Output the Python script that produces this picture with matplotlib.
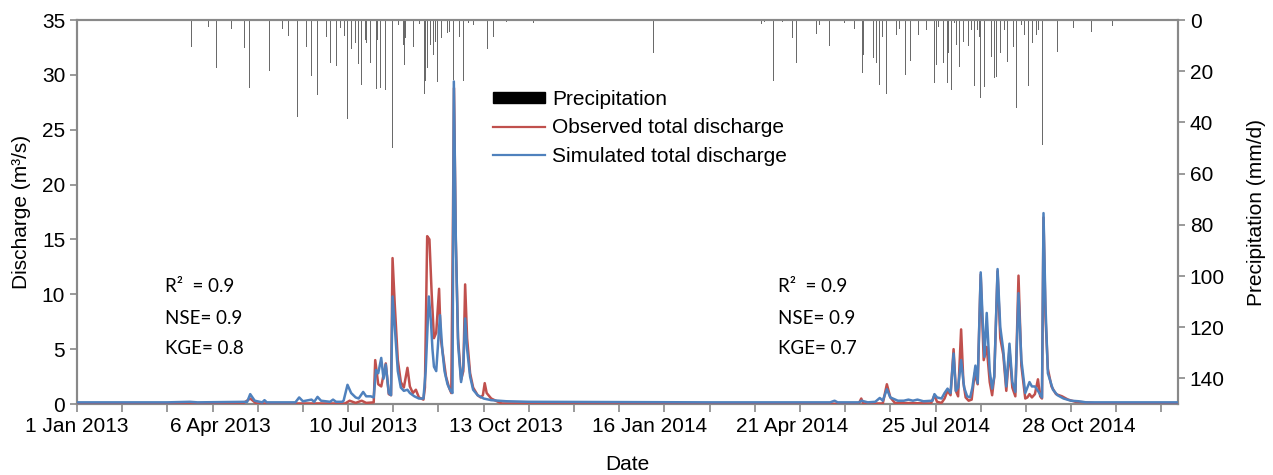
import numpy as np
import matplotlib
matplotlib.use("Agg")
from matplotlib import pyplot as plt
from matplotlib.patches import Patch
from matplotlib.lines import Line2D

plt.rcParams['font.family'] = ['Liberation Sans', 'DejaVu Sans']

# day index counted from 1 Jan 2013
tick_days = [0, 95, 190, 285, 380, 475, 570, 665]
tick_labels = ['1 Jan 2013', '6 Apr 2013', '10 Jul 2013', '13 Oct 2013',
               '16 Jan 2014', '21 Apr 2014', '25 Jul 2014', '28 Oct 2014']

# observed discharge (m3/s)
obs_day = [0, 110, 115, 119, 178, 181, 185, 189, 192, 197, 198, 200, 202, 205,
           207, 208.5, 209.5, 211, 213, 215, 217, 219.4, 221, 223, 225, 227, 230,
           231, 232.5, 234, 235.5, 237, 238.5, 240.4, 241.5, 243, 245, 247, 248.5,
           249.5, 250.3, 251.5, 253, 255, 256.5, 257.7, 259, 261, 263, 266, 268,
           269.5, 270.7, 272, 275, 278, 282, 519, 520.7, 522, 535, 537.7, 540, 543,
           567, 569.3, 571, 574, 576, 578, 580, 582, 583.5, 585, 587, 588.5, 590,
           592, 594, 596, 598, 600, 602, 604, 606, 607.6, 609, 611.2, 613, 615, 617,
           619.1, 621, 623, 625.1, 627, 629.6, 631, 632.4, 634, 636, 638, 639.5,
           640.7, 641.7, 643, 644.6, 647, 650, 654, 658, 663, 670, 677, 731]
obs_q = [0.03, 0.03, 0.5, 0.05, 0.05, 0.3, 0.1, 0.3, 0.1, 0.15, 4.0, 1.8, 1.6, 3.7,
         0.9, 0.8, 13.3, 9.0, 4.0, 2.0, 1.5, 3.3, 1.6, 1.0, 1.3, 0.6, 0.4,
         1.5, 15.3, 15.0, 10.0, 6.0, 6.5, 10.5, 6.0, 4.5, 2.5, 1.5, 1.0,
         15.0, 28.8, 15.0, 6.0, 2.2, 3.0, 10.9, 6.0, 2.8, 1.5, 0.8, 0.6,
         0.8, 1.9, 1.0, 0.5, 0.3, 0.05, 0.02, 0.5, 0.05, 0.05, 1.8, 0.6, 0.1,
         0.05, 0.8, 0.2, 0.1, 0.5, 1.2, 0.8, 5.0, 1.2, 0.7, 6.8, 2.0, 0.6,
         0.3, 0.4, 2.8, 1.8, 11.8, 4.0, 5.2, 2.0, 0.8, 2.5, 12.1, 6.0, 4.5, 1.2,
         5.0, 1.5, 0.7, 11.7, 3.5, 0.5, 0.6, 0.9, 0.6, 0.9, 2.25, 0.7,
         0.5, 17.0, 8.0, 3.2, 1.6, 0.9, 0.7, 0.4, 0.2, 0.15, 0.05, 0.02]

# simulated discharge (m3/s)
sim_day = [0, 60, 75, 80, 113, 115, 118, 123, 124.5, 126, 145, 147.5, 150, 155.7,
           157.5, 159.7, 162, 168, 170, 172, 176, 177, 179.6, 182, 185, 187, 190,
           192, 195, 197, 198.5, 200, 202, 203.5, 205, 207, 208.5, 209.5, 211, 213,
           215, 217, 219.4, 221, 224, 227, 230, 231.5, 233.6, 235, 236, 237, 238.5,
           241, 242.5, 244, 246, 248, 249.3, 250.2, 251.5, 253, 255, 256.5, 257.7,
           259, 261, 263, 266, 270, 275, 285, 300, 420, 500, 503, 505, 519, 521,
           525, 530, 533, 535, 537.7, 540, 545, 549, 552, 555, 558, 562, 568,
           569.3, 571, 574, 576, 578, 580, 582, 583.5, 585, 587, 589, 591, 593,
           594.5, 596.5, 598, 600, 601.5, 602.5, 604, 606, 607.6, 609, 611.2, 613,
           615, 617, 619.1, 621, 623, 625.1, 627, 629.6, 631, 632.4, 634, 636, 638,
           640.7, 641.7, 643, 644.6, 648, 651, 655, 660, 665, 670, 731]
sim_q = [0.15, 0.15, 0.2, 0.15, 0.2, 0.9, 0.3, 0.15, 0.35, 0.15, 0.15, 0.6, 0.25, 0.4,
         0.2, 0.65, 0.3, 0.2, 0.4, 0.2, 0.2, 0.3, 1.75, 1.0, 0.6, 0.5, 1.1,
         0.7, 0.7, 0.6, 3.1, 2.8, 4.2, 2.3, 3.6, 1.0, 0.8, 9.8, 7.0, 3.0,
         1.5, 1.2, 1.3, 1.0, 0.7, 0.5, 0.5, 3.0, 9.8, 7.5, 5.0, 3.4, 3.0,
         8.1, 5.0, 3.0, 1.8, 1.2, 1.0, 29.4, 15.0, 5.5, 2.0, 3.5, 7.8,
         5.0, 2.5, 1.3, 0.8, 0.5, 0.35, 0.25, 0.2, 0.15, 0.15, 0.3, 0.15, 0.15, 0.3,
         0.15, 0.2, 0.55, 0.3, 1.35, 0.6, 0.3, 0.3, 0.4, 0.3, 0.4, 0.25, 0.3,
         0.9, 0.6, 0.5, 1.0, 1.4, 1.0, 4.6, 1.2, 1.5, 4.0, 1.5, 0.7, 0.6,
         1.5, 3.5, 1.9, 12.0, 7.0, 4.3, 8.3, 3.0, 1.4, 2.5, 12.3, 7.0,
         4.9, 1.6, 5.5, 2.0, 1.1, 10.1, 4.0, 1.0, 1.5, 2.0, 1.6, 1.6, 1.2,
         0.6, 17.4, 9.0, 2.8, 1.3, 0.8, 0.5, 0.3, 0.25, 0.15, 0.15]

# daily precipitation (mm/d)
rain_day = [60.4, 76.3, 87.4, 92.7, 102.4, 111.5, 114.6, 127.6, 136.5, 140.5, 146.4,
            152.6, 155.5, 159.5, 165.6, 168.5, 172.5, 174.7, 177.6, 179.5, 182.5,
            185.1, 186.7, 188.6, 191.8, 192.4, 194.6, 198.7, 199.3, 201.6, 204.6,
            209.6, 213.5, 216.5, 217.4, 218.3, 223.7, 227.2, 230.5, 231.6, 232.5,
            234.5, 236.4, 238, 239.5, 242.2, 245.7, 247.5, 249.7, 253.7, 256.6,
            259.7, 263, 272.3, 276.3, 280.2, 285, 302.8, 382.9, 454.3, 456.5, 462.7,
            468.7, 474.9, 478, 482, 486, 488, 490.8, 493, 499.7, 509.8, 516.3,
            521.3, 522.2, 528.9, 531, 532.8, 535, 537.7, 543.9, 546.1, 549.9, 553.2,
            558.9, 563.8, 569.3, 570.4, 572.2, 575.3, 577.8, 578.8, 580.8, 582.6,
            584.1, 585.9, 588.6, 592.1, 593.7, 595.9, 597.6, 599.2, 599.9, 602.5,
            607, 609.2, 610.3, 612.9, 615.8, 618, 621.8, 624, 626.9, 629.1, 632,
            634.6, 637.2, 638.6, 640.8, 651.2, 661.8, 673.3, 687.7]
rain_mm = [12.6, 10.4, 2.6, 18.6, 3.4, 10.8, 26.5, 20.1, 3.7, 6.1, 37.8,
           10.4, 21.8, 29.3, 6.8, 16.9, 17.9, 3.3, 6.1, 38.8, 11.2,
           9.1, 17.3, 25.4, 7.8, 9.1, 16.9, 27.0, 7.8, 26.4, 27.4,
           50.0, 2.0, 9.8, 17.6, 6.9, 10.4, 1.7, 29.1, 23.9, 18.6,
           9.8, 13.7, 8.5, 24.1, 7.2, 5.2, 4.6, 23.5, 6.5, 23.9,
           1.0, 2.0, 11.5, 6.5, 6.9, 0.8, 1.3, 12.8, 1.6, 0.8, 23.9,
           0.8, 7.2, 16.7, 1.5, 15.4, 5.2, 5.3, 2.0, 10.0, 1.2, 3.7,
           20.6, 13.7, 15.0, 16.9, 25.4, 6.5, 29.1, 5.9, 3.7, 21.5, 16.0,
           5.9, 3.9, 24.8, 17.6, 2.9, 16.9, 24.5, 13.0, 27.4, 1.2,
           9.8, 18.2, 8.5, 10.2, 3.9, 25.8, 3.9, 6.5, 30.6, 26.1,
           14.3, 22.8, 22.4, 13.0, 3.9, 16.3, 10.4, 34.5, 2.0, 5.7, 25.8,
           9.1, 5.9, 3.9, 48.9, 12.4, 3.3, 4.8, 2.3]

red = '#C0504D'
blue = '#4F81BD'
grey = '#898989'
fs = 15

fig = plt.figure(figsize=(12.73, 4.75), dpi=100)
ax = fig.add_axes([77 / 1273, 71 / 475, 1101 / 1273, 384 / 475])
ax2 = ax.twinx()

ax2.bar(rain_day, rain_mm, width=0.6, color='#6a6a6a', align='center')
ax2.set_ylim(150, 0)
ax2.set_yticks(range(0, 141, 20))
ax2.set_ylabel('Precipitation (mm/d)', fontsize=fs, labelpad=16)

ax.plot(obs_day, obs_q, color=red, lw=1.8, zorder=3)
ax.plot(sim_day, sim_q, color=blue, lw=1.8, zorder=4)
ax.set_zorder(ax2.get_zorder() + 1)
ax.patch.set_visible(False)

ax.set_xlim(0, 731)
ax.set_ylim(0, 35)
ax.set_yticks(range(0, 36, 5))
ax.set_ylabel('Discharge (m³/s)', fontsize=fs, labelpad=8)
ax.set_xlabel('Date', fontsize=fs, labelpad=14)

ax.xaxis.remove_overlapping_locs = False
ax.set_xticks(range(0, 721, 30))
ax.set_xticklabels([])
ax.set_xticks(tick_days, minor=True)
ax.set_xticklabels(tick_labels, minor=True)
ax.tick_params(axis='x', which='major', direction='out', length=6, color=grey, width=1.2)
ax.tick_params(axis='x', which='minor', length=0, pad=9, labelsize=fs)
ax.tick_params(axis='y', direction='out', length=5, color=grey, width=1.2, labelsize=fs)
ax2.tick_params(axis='y', direction='out', length=5, color=grey, width=1.2, labelsize=fs)

for a in (ax, ax2):
    for s in a.spines.values():
        s.set_color(grey)
        s.set_linewidth(1.5)

# goodness-of-fit statistics
stats_2013 = ['R²  = 0.9', 'NSE= 0.9', 'KGE= 0.8']
stats_2014 = ['R²  = 0.9', 'NSE= 0.9', 'KGE= 0.7']
for x0, lines in ((165, stats_2013), (778, stats_2014)):
    for i, t in enumerate(lines):
        fig.text(x0 / 1273, 1 - (287 + 31 * i) / 475, t, fontsize=13.5,
                 family=['Lato', 'DejaVu Sans'], va='center', ha='left')

handles = [Patch(facecolor='black', edgecolor='black'),
           Line2D([], [], color=red, lw=1.6),
           Line2D([], [], color=blue, lw=1.6)]
labels = ['Precipitation', 'Observed total discharge', 'Simulated total discharge']
fig.legend(handles, labels, loc='upper left', bbox_to_anchor=(493 / 1273, 1 - 90 / 475),
           frameon=False, fontsize=fs, handlelength=2.5, handleheight=0.45,
           handletextpad=0.33, labelspacing=0.45, borderaxespad=0, borderpad=0)

fig.savefig('out.png', dpi=100)
